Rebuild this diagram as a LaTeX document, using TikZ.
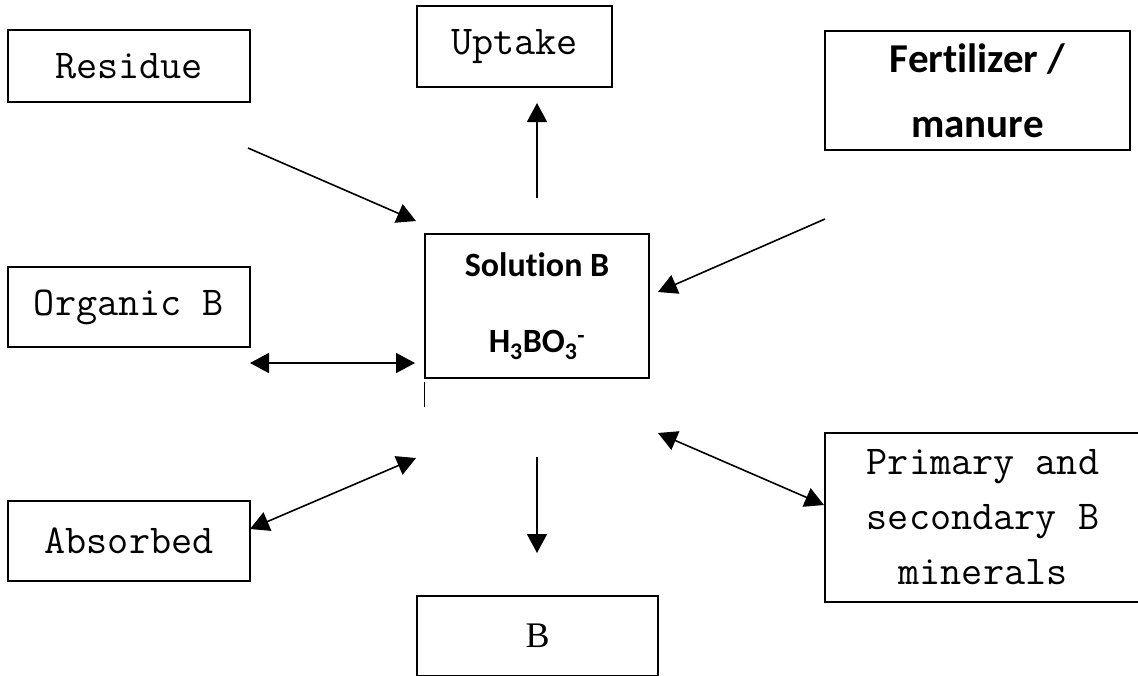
\documentclass[tikz,border=0pt]{standalone}
\usepackage{fontspec}
\newfontfamily\boldsans[Ligatures=NoCommon]{Carlito}
\newfontfamily\plainserif{Liberation Serif}
\usetikzlibrary{arrows.meta}
\tikzset{
  pool/.style={draw,line width=1.3pt,align=center,inner sep=0pt,
    font=\ttfamily\fontsize{41}{55}\selectfont},
  flow/.style={line width=1.6pt,-{Triangle[length=19pt,width=20pt]}},
  swap/.style={line width=1.6pt,{Triangle[length=19pt,width=20pt]}-{Triangle[length=19pt,width=20pt]}}
}
\begin{document}
\begin{tikzpicture}[x=1pt,y=-1pt]
\clip (0,0) rectangle (1138,675);
\fill[white] (0,0) rectangle (1138,675);
% boxes
\node[pool,minimum width=242,minimum height=72] (residue) at (129,66) {Residue};
\node[pool,minimum width=195,minimum height=81] (uptake) at (514.5,46.5) {Uptake};
\node[pool,minimum width=305,minimum height=119,
  font=\boldsans\bfseries\fontsize{41}{65}\selectfont] (fert) at (977.5,90.5) {Fert\kern0pt ilizer /\\manure};
\node[pool,minimum width=242,minimum height=80] (organic) at (129,307) {Organic B};
\node[pool,minimum width=242,minimum height=80] (absorbed) at (129,541) {Absorbed};
\node[pool,minimum width=224,minimum height=144,
  font=\boldsans\bfseries\fontsize{34}{76}\selectfont] (sol) at (537,306)
  {Solut\kern0pt ion B\\H\textsubscript{3}BO\textsubscript{3}\textsuperscript{-}};
\node[pool,minimum width=316,minimum height=169] (mineral) at (983,517.5)
  {Primary and\\secondary B\\minerals};
\node[pool,minimum width=241,minimum height=80,
  font=\plainserif\fontsize{36}{40}\selectfont] (fixed) at (537.5,636) {B};
% free ends of the arrows
\coordinate (res1) at (248,148);   \coordinate (res2) at (416,221);
\coordinate (up1) at (537,198);    \coordinate (up2) at (537,103);
\coordinate (fer1) at (825,219);   \coordinate (fer2) at (658,292);
\coordinate (org1) at (250,363);   \coordinate (org2) at (415,363);
\coordinate (abs1) at (250,529);   \coordinate (abs2) at (416,458);
\coordinate (min1) at (658,433);   \coordinate (min2) at (824,505);
\coordinate (fix1) at (537,457);   \coordinate (fix2) at (537,553);
% arrows
\draw[flow] (res1) -- (res2);
\draw[flow] (up1) -- (up2);
\draw[flow] (fer1) -- (fer2);
\draw[swap] (org1) -- (org2);
\draw[swap] (abs1) -- (abs2);
\draw[swap] (min1) -- (min2);
\draw[flow] (fix1) -- (fix2);
\draw[line width=1.2pt] (sol.south west) ++(0,3) -- ++(0,25);
\end{tikzpicture}
\end{document}
